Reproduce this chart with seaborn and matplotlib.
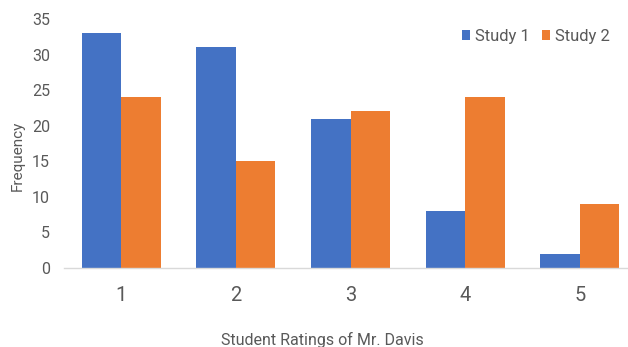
import matplotlib
matplotlib.use("Agg")
import matplotlib.pyplot as plt
import seaborn as sns
import pandas as pd

categories = ["1", "2", "3", "4", "5"]
study1 = [33, 31, 21, 8, 2]
study2 = [24, 15, 22, 24, 9]
series_names = ["Study 1", "Study 2"]
y_ticks = [0, 5, 10, 15, 20, 25, 30, 35]

df = pd.DataFrame({
    "rating": categories * 2,
    "freq": study1 + study2,
    "study": [series_names[0]] * len(categories) + [series_names[1]] * len(categories),
})

sns.set_theme(style="white")
plt.rcParams["font.family"] = ["Roboto", "DejaVu Sans"]
txt = "#595959"

fig = plt.figure(figsize=(6.28, 3.47), dpi=100)
ax = fig.add_axes([64/628, 79/347, 573/628, 249/347])
sns.barplot(data=df, x="rating", y="freq", hue="study", order=categories,
            hue_order=series_names, palette=["#4472C4", "#ED7D31"],
            width=0.69, gap=0, saturation=1, linewidth=0, ax=ax, legend=True)
ax.set_xlim(-0.5, 4.5)
ax.set_ylim(0, 35)
ax.set_yticks(y_ticks)
ax.tick_params(axis="y", labelsize=11.5, colors=txt, length=0, pad=10)
ax.tick_params(axis="x", labelsize=14.5, colors=txt, length=0, pad=13)
for s in ["top", "right", "left"]:
    ax.spines[s].set_visible(False)
ax.spines["bottom"].set_color("#d9d9d9")
ax.spines["bottom"].set_linewidth(1)
ax.set_xlabel("Student Ratings of Mr. Davis", fontsize=11.5, color=txt)
ax.set_ylabel("Frequency", fontsize=11, color=txt)
fig.canvas.draw()
inv = ax.transAxes.inverted()
xl = inv.transform(fig.transFigure.transform((322/628, 1 - 340/347)))
yl = inv.transform(fig.transFigure.transform((18/628, 1 - 156/347)))
ax.xaxis.set_label_coords(xl[0], xl[1])
ax.xaxis.label.set_va("center")
ax.yaxis.set_label_coords(yl[0], yl[1])
ax.yaxis.label.set_va("center")
ax.legend(loc="upper left", bbox_to_anchor=(462/628, 1 - 29/347),
          bbox_transform=fig.transFigure, ncol=2, frameon=False,
          fontsize=12, labelcolor=txt, handlelength=0.5, handleheight=0.5,
          handletextpad=0.3, columnspacing=0.7, borderaxespad=0, borderpad=0)
fig.savefig("out.png", dpi=100)
